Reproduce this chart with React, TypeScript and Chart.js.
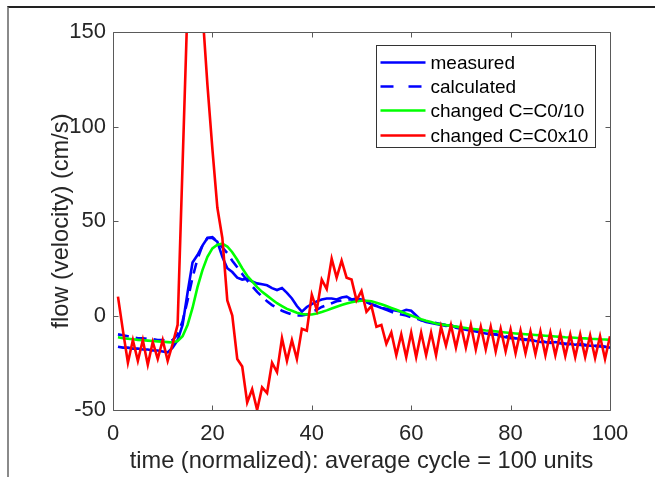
import React, { useEffect, useRef } from 'react';
import { Chart, registerables } from 'chart.js';

Chart.register(...registerables);

const TIME: number[] = Array.from({ length: 100 }, (_, i) => i + 1);

const MEASURED: number[] = [
  -16.5, -17, -17, -17.5, -17.5, -18, -18, -18.5, -18.5, -19,
  -19.5, -17, -13, -5, 12, 28, 32, 37, 41, 41,
  39, 31, 25, 23, 20, 19, 19.5, 18, 17, 16.5,
  16, 14.5, 13.5, 14.5, 12, 9, 5, 2, 4.5, 6,
  7.5, 8.5, 9, 9, 8.5, 9.5, 10, 8.5, 9, 8.5,
  7.5, 6, 5, 4, 3.5, 3, 2.5, 2, 3, 2.5,
  0, -2.5, -3.5, -4, -4.5, -5, -5.5, -5, -6.5, -7,
  -7.5, -8, -8.5, -9, -9.5, -10, -10, -11, -11.5, -12,
  -12, -12.5, -13, -13, -13.5, -14, -14, -14.5, -14, -14.5,
  -15, -15, -15.5, -15, -15.5, -16, -16, -16, -16.5, -17,
];

const CALCULATED: number[] = [
  -10, -10.5, -11, -11.5, -12, -12, -12.5, -12.5, -13, -13,
  -13.5, -13, -10, -3, 8, 20, 30, 37, 41, 41.5,
  39, 36, 33, 29, 25.5, 22, 18.5, 15.5, 12.5, 10,
  7.5, 5.5, 4, 2.5, 1.5, 0.5, 0, 0, 0.5, 2,
  3, 4.5, 5.5, 6.5, 7.5, 8, 8.5, 8.5, 8, 7.5,
  7, 6, 5, 4, 3, 2, 1, 0.5, 0, -1,
  -1.5, -2.5, -3, -3.5, -4, -4.5, -5, -5.5, -6, -6.5,
  -7, -7.5, -8, -8.5, -9, -9.5, -10, -10.5, -11, -11.5,
  -12, -12.3, -12.6, -13, -13.3, -13.6, -14, -14.2, -14.5, -14.7,
  -15, -15.2, -15.4, -15.6, -15.8, -16, -16.2, -16.4, -16.6, -16.8,
];

const C_DIV10: number[] = [
  -11.5, -12, -12.3, -12.6, -12.9, -13.1, -13.3, -13.5, -13.7, -13.9,
  -14.1, -14.3, -13.5, -11, -5, 4, 15, 24, 31, 35.5,
  37.5, 38, 36.5, 33.5, 29.5, 25, 21, 18, 15, 12.5,
  10.5, 8.5, 6.5, 5, 3.5, 2.5, 1.5, 0.8, 0.5, 0.5,
  1, 1.8, 2.7, 3.7, 4.6, 5.5, 6.3, 7, 7.5, 7.8,
  7.8, 7.5, 6.8, 6, 5, 4, 3, 2, 1, 0,
  -1, -2, -2.8, -3.5, -4.2, -4.7, -5.1, -5.5, -5.9, -6.3,
  -6.6, -7, -7.3, -7.6, -7.9, -8.1, -8.4, -8.7, -9, -9.3,
  -9.5, -9.7, -9.9, -10.1, -10.3, -10.5, -10.7, -10.9, -11.1, -11.3,
  -11.5, -11.6, -11.8, -12, -12.1, -12.3, -12.4, -12.6, -12.7, -12.9,
];

const C_X10: number[] = [
  10, -8, -25, -13, -24, -13, -26, -14, -23, -13,
  -24, -15, -5, 80, 165, 190, 185, 161, 122, 88,
  57, 41, 8, 0, -23, -27, -46, -39, -50, -38,
  -41, -25, -30, -12, -24, -13, -23, -7, -8, 11,
  3, 19, 14, 30, 20, 29, 20, 19, 8, 13,
  2, 5, -6, -5, -15, -9, -21, -10, -22, -9,
  -22, -9, -21, -9, -21, -6, -16, -5, -17, -5,
  -17, -5, -18, -6, -18, -6, -19, -7, -19, -7.5,
  -20, -8, -20, -8.5, -20.5, -8.5, -21, -9, -21, -9.5,
  -21.5, -10, -22, -10, -22, -10.5, -22.5, -11, -23, -11,
];

const SERIES_NAMES: string[] = ['measured', 'calculated', 'changed C=C0/10', 'changed C=C0x10'];
const X_TICKS: number[] = [0, 20, 40, 60, 80, 100];
const Y_TICKS: number[] = [-50, 0, 50, 100, 150];
const X_TITLE = 'time (normalized): average cycle = 100 units';
const Y_TITLE = 'flow (velocity) (cm/s)';

const FONT = '"Liberation Sans", Arial, Helvetica, sans-serif';
const BLUE = 'rgb(0,0,255)';
const GREEN = 'rgb(0,255,0)';
const RED = 'rgb(255,0,0)';
const DASH = [11, 7];

const STYLES = [
  { color: BLUE, dash: [] as number[] },
  { color: BLUE, dash: DASH },
  { color: GREEN, dash: [] as number[] },
  { color: RED, dash: [] as number[] },
];

const framePlugin = {
  id: 'matlabFrame',
  afterDatasetsDraw(chart: any) {
    const { ctx, chartArea: a, scales } = chart;
    const xs = scales.x;
    const ys = scales.y;
    ctx.save();
    ctx.strokeStyle = '#5a5a5a';
    ctx.lineWidth = 1;
    const L = Math.round(a.left) + 0.5;
    const R = Math.round(a.right) + 0.5;
    const T = Math.round(a.top) + 0.5;
    const B = Math.round(a.bottom) + 0.5;
    ctx.beginPath();
    ctx.rect(L, T, R - L, B - T);
    const tl = 5;
    X_TICKS.forEach((v) => {
      const px = Math.round(xs.getPixelForValue(v)) + 0.5;
      ctx.moveTo(px, B);
      ctx.lineTo(px, B - tl);
      ctx.moveTo(px, T);
      ctx.lineTo(px, T + tl);
    });
    Y_TICKS.forEach((v) => {
      const py = Math.round(ys.getPixelForValue(v)) + 0.5;
      ctx.moveTo(L, py);
      ctx.lineTo(L + tl, py);
      ctx.moveTo(R, py);
      ctx.lineTo(R - tl, py);
    });
    ctx.stroke();

    // legend box
    const bx = Math.round(a.right - 234) + 0.5;
    const by = Math.round(a.top + 13) + 0.5;
    const bw = 219;
    const bh = 102;
    ctx.fillStyle = '#ffffff';
    ctx.fillRect(bx, by, bw, bh);
    ctx.strokeStyle = '#333333';
    ctx.lineWidth = 1;
    ctx.strokeRect(bx, by, bw, bh);
    const rows = [17, 41, 65, 90];
    ctx.font = '19px ' + FONT;
    ctx.textBaseline = 'middle';
    ctx.textAlign = 'left';
    SERIES_NAMES.forEach((name, i) => {
      const y = by + rows[i];
      const st = STYLES[i];
      ctx.beginPath();
      ctx.strokeStyle = st.color;
      ctx.lineWidth = 2.5;
      ctx.setLineDash(i === 1 ? [13, 15] : []);
      ctx.moveTo(bx + 4, y);
      ctx.lineTo(bx + 49, y);
      ctx.stroke();
      ctx.setLineDash([]);
      ctx.fillStyle = '#000000';
      ctx.fillText(name, bx + 54, y + 1);
    });
    ctx.restore();
  },
};

export default function App() {
  const ref = useRef<HTMLCanvasElement | null>(null);

  useEffect(() => {
    if (!ref.current) return;
    const series = [MEASURED, CALCULATED, C_DIV10, C_X10];
    const orders = [4, 3, 2, 1];
    const chart = new Chart(ref.current, {
      type: 'line',
      data: {
        datasets: series.map((arr, i) => ({
          label: SERIES_NAMES[i],
          data: TIME.map((t, j) => ({ x: t, y: arr[j] })),
          borderColor: STYLES[i].color,
          borderDash: STYLES[i].dash,
          borderWidth: 2.6,
          pointRadius: 0,
          tension: 0,
          fill: false,
          order: orders[i],
        })),
      },
      options: {
        responsive: false,
        animation: false,
        events: [],
        layout: { padding: { left: 0, top: 32, right: 45, bottom: 0 } },
        plugins: { legend: { display: false }, tooltip: { enabled: false } },
        scales: {
          x: {
            type: 'linear',
            min: 0,
            max: 100,
            afterFit: (s: any) => { s.height = 67; },
            afterBuildTicks: (s: any) => { s.ticks = X_TICKS.map((v) => ({ value: v })); },
            grid: { display: false, drawTicks: false },
            border: { display: false },
            ticks: {
              padding: 11,
              maxRotation: 0,
              color: '#262626',
              font: { family: FONT, size: 22 },
            },
            title: {
              display: true,
              text: X_TITLE,
              color: '#262626',
              font: { family: FONT, size: 23.6, lineHeight: 1 },
              padding: { top: 0, bottom: 3.5 },
            },
          },
          y: {
            type: 'linear',
            min: -50,
            max: 150,
            afterFit: (s: any) => { s.width = 113; },
            afterBuildTicks: (s: any) => { s.ticks = Y_TICKS.map((v) => ({ value: v })); },
            grid: { display: false, drawTicks: false },
            border: { display: false },
            ticks: {
              padding: 7,
              color: '#262626',
              font: { family: FONT, size: 22 },
            },
            title: {
              display: true,
              text: Y_TITLE,
              color: '#262626',
              font: { family: FONT, size: 23.6, lineHeight: 1 },
              padding: { top: 49.5, bottom: 0 },
            },
          },
        },
      },
      plugins: [framePlugin],
    });
    return () => chart.destroy();
  }, []);

  return (
    <div style={{ position: 'absolute', left: 0, top: 0, width: 655, height: 477, background: '#fff', overflow: 'hidden' }}>
      <canvas ref={ref} width={655} height={477} style={{ display: 'block', width: 655, height: 477 }} />
      <div style={{ position: 'absolute', left: 7, top: 6, width: 648, height: 471, borderTop: '2px solid #222', borderLeft: '2px solid #8a8a8a', pointerEvents: 'none' }} />
    </div>
  );
}
